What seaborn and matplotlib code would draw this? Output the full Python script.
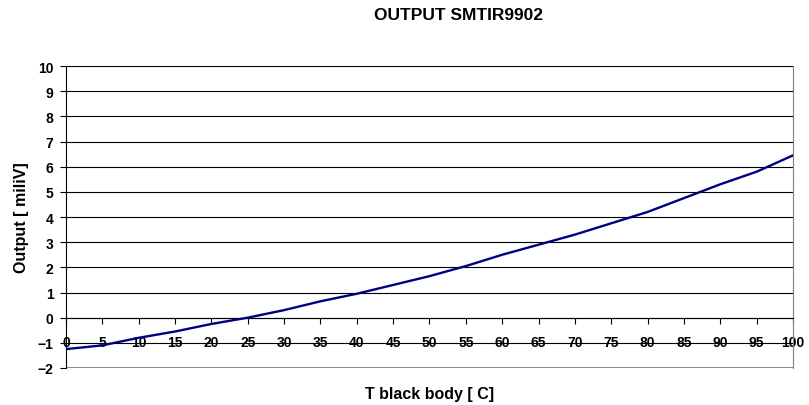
import numpy as np
import pandas as pd
import matplotlib
matplotlib.use("Agg")
import matplotlib.pyplot as plt
import seaborn as sns

# temperature of the black body [C] and sensor output [miliV]
temps = [0, 5, 10, 15, 20, 25, 30, 35, 40, 45, 50,
         55, 60, 65, 70, 75, 80, 85, 90, 95, 100]
output_mv = [-1.25, -1.1, -0.8, -0.55, -0.25, 0.0, 0.3, 0.65, 0.95, 1.3, 1.65,
             2.05, 2.5, 2.9, 3.3, 3.75, 4.2, 4.75, 5.3, 5.8, 6.45]
x_ticks = list(range(0, 101, 5))
y_ticks = list(range(-2, 11))

df = pd.DataFrame({"temp": temps, "output": output_mv})

sns.set_style("white")
plt.rcParams["font.family"] = ["Liberation Sans", "DejaVu Sans"]
plt.rcParams["font.weight"] = "bold"
plt.rcParams["text.color"] = "black"

fig = plt.figure(figsize=(8.09, 4.06), dpi=100)
ax = fig.add_axes([66 / 809, 37 / 406, (793 - 66) / 809, (369 - 67) / 406])

sns.lineplot(data=df, x="temp", y="output", color="#000080", linewidth=1.7, ax=ax, zorder=3)

ax.set_xlim(0, 100)
ax.set_ylim(-2, 10)
ax.set_xticks(x_ticks)
ax.set_yticks(y_ticks)
ax.grid(axis="y", color="black", linewidth=0.8)
ax.set_axisbelow(True)

# Excel style: category axis crosses at zero
ax.spines["bottom"].set_position(("data", 0))
ax.spines["bottom"].set_color("black")
ax.spines["left"].set_color("black")
ax.spines["top"].set_visible(False)
ax.spines["right"].set_visible(True)
ax.spines["right"].set_color("#808080")
ax.axhline(-2, color="#808080", linewidth=1.2, zorder=0)

ax.tick_params(axis="x", direction="out", length=4, width=0.8, pad=8.5,
               labelsize=10, bottom=True, colors="black")
ax.tick_params(axis="y", direction="out", length=4, width=0.8, pad=5,
               labelsize=10, left=True, colors="black")
for lab in ax.get_xticklabels() + ax.get_yticklabels():
    lab.set_fontweight("bold")

ax.set_xlabel("")
ax.set_ylabel("")
fig.text(430 / 809, 1 - 395 / 406, "T black body [ C]", ha="center", va="center",
         fontsize=11.5, fontweight="bold", color="black")
fig.text(22 / 809, 1 - 218 / 406, "Output [ miliV]", ha="center", va="center",
         rotation=90, fontsize=11.5, fontweight="bold", color="black")
fig.text(458 / 809, 1 - 15.5 / 406, "OUTPUT SMTIR9902", ha="center", va="center",
         fontsize=12.5, fontweight="bold", color="black")

fig.savefig("out.png", dpi=100)
